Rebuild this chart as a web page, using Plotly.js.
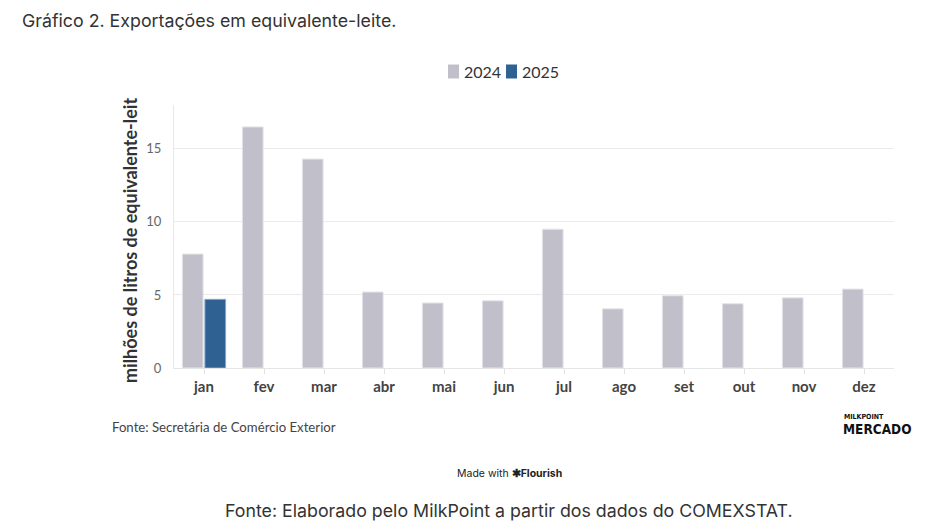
<!DOCTYPE html>
<html>
<head>
<meta charset="utf-8">
<script src="https://cdn.plot.ly/plotly-3.0.1.min.js"></script>
<style>
html,body{margin:0;padding:0;background:#fff;}
#chart{width:926px;height:529px;}
</style>
</head>
<body>
<div id="chart"></div>
<script>
// Data
const months = ["jan","fev","mar","abr","mai","jun","jul","ago","set","out","nov","dez"];
const values2024 = [7.8, 16.5, 14.3, 5.2, 4.45, 4.6, 9.5, 4.05, 4.95, 4.4, 4.8, 5.4];
const values2025 = [4.7, null, null, null, null, null, null, null, null, null, null, null];
const seriesNames = ["2024", "2025"];
const yTicks = [0, 5, 10, 15];

const W = 926, H = 529;
const L = 174, R = 894, T = 105, B = 368;
const px = x => (x - L) / (R - L);
const py = y => (B - y) / (B - T);

const col2024 = "#c1c0ca";
const col2025 = "#2f6292";
const font = "Lato, 'Source Sans Pro', 'Noto Sans', sans-serif";
const headFont = "Inter, 'Noto Sans', sans-serif";

const traces = [
  {type:"bar", name:seriesNames[0], x:months, y:values2024,
   marker:{color:col2024, line:{color:"#e4e4ea", width:1}}, hoverinfo:"x+y"},
  {type:"bar", name:seriesNames[1], x:months, y:values2025,
   marker:{color:col2025, line:{color:"#8aa6c4", width:1}}, hoverinfo:"x+y"}
];

const layout = {
  width: W, height: H,
  margin: {l: L, r: W - R, t: T, b: H - B, pad: 0},
  paper_bgcolor: "#fff", plot_bgcolor: "#fff",
  barmode: "group", bargap: 0.25, bargroupgap: 0.08,
  showlegend: false,
  font: {family: font, color: "#333"},
  xaxis: {
    type: "category", range: [-0.5, 11.5], fixedrange: true,
    showline: true, linecolor: "#e6e6e6", linewidth: 1,
    ticks: "outside", ticklen: 5, tickcolor: "#e2e2e2", tickwidth: 1,
    tickfont: {family: font, size: 15, color: "#444", weight: "bold"},
    showgrid: false
  },
  yaxis: {
    range: [0, 18], tickvals: yTicks, ticktext: yTicks.map(String), fixedrange: true,
    showline: true, linecolor: "#e8e8e8", linewidth: 1,
    gridcolor: "#ebebeb", gridwidth: 1, zeroline: false,
    ticks: "outside", ticklen: 9, tickcolor: "rgba(0,0,0,0)",
    tickfont: {family: font, size: 13, color: "#666"}
  },
  shapes: [
    {type:"rect", xref:"paper", yref:"paper", xsizemode:"pixel", ysizemode:"pixel",
     xanchor:px(448), yanchor:py(71.5), x0:0, x1:11, y0:-7, y1:7,
     fillcolor:col2024, line:{width:0}},
    {type:"rect", xref:"paper", yref:"paper", xsizemode:"pixel", ysizemode:"pixel",
     xanchor:px(506), yanchor:py(71.5), x0:0, x1:11, y0:-7, y1:7,
     fillcolor:col2025, line:{width:0}}
  ],
  annotations: [
    {xref:"paper", yref:"paper", x:px(20), y:py(20), xanchor:"left", yanchor:"middle",
     text:"Gráfico 2. Exportações em equivalente-leite.", showarrow:false,
     font:{family:headFont, size:17.8, color:"#333"}},
    {xref:"paper", yref:"paper", x:px(462), y:py(72), xanchor:"left", yanchor:"middle",
     text:seriesNames[0], showarrow:false, font:{family:font, size:16, color:"#333"}},
    {xref:"paper", yref:"paper", x:px(520), y:py(72), xanchor:"left", yanchor:"middle",
     text:seriesNames[1], showarrow:false, font:{family:font, size:16, color:"#333"}},
    {xref:"paper", yref:"paper", x:px(130), y:py(241), xanchor:"center", yanchor:"middle",
     textangle:-90, text:"milhões de litros de equivalente-leit", showarrow:false,
     font:{family:font, size:18, color:"#333", weight:"bold"}},
    {xref:"paper", yref:"paper", x:px(110), y:py(427), xanchor:"left", yanchor:"middle",
     text:"Fonte: Secretária de Comércio Exterior", showarrow:false,
     font:{family:font, size:13.2, color:"#444"}},
    {xref:"paper", yref:"paper", x:px(842), y:py(417), xanchor:"left", yanchor:"middle",
     text:"<b>MILKPOINT</b>", showarrow:false,
     font:{family:"'Liberation Sans Narrow', 'DejaVu Sans Condensed', sans-serif", size:7, color:"#111"}},
    {xref:"paper", yref:"paper", x:px(841), y:py(429), xanchor:"left", yanchor:"middle",
     text:"<b>MERCADO</b>", showarrow:false,
     font:{family:"'Liberation Sans Narrow', 'DejaVu Sans Condensed', sans-serif", size:13.5, color:"#111"}},
    {xref:"paper", yref:"paper", x:px(509), y:py(473), xanchor:"center", yanchor:"middle",
     text:"Made with <b>✱Flourish</b>", showarrow:false,
     font:{family:headFont, size:10.5, color:"#222"}},
    {xref:"paper", yref:"paper", x:px(509), y:py(510), xanchor:"center", yanchor:"middle",
     text:"Fonte: Elaborado pelo MilkPoint a partir dos dados do COMEXSTAT.", showarrow:false,
     font:{family:headFont, size:17.8, color:"#333"}}
  ]
};

Plotly.newPlot("chart", traces, layout, {displayModeBar:false, staticPlot:true});
</script>
</body>
</html>
